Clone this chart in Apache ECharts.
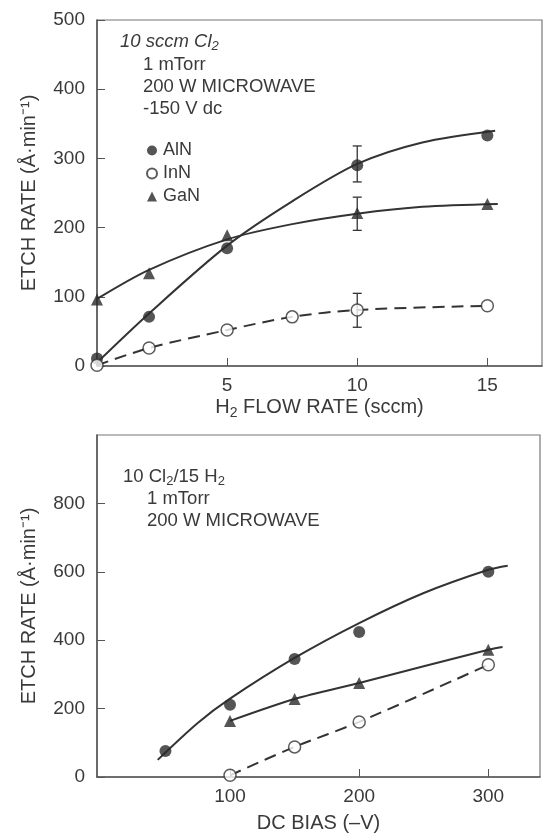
<!DOCTYPE html>
<html style="height: 100%">
<head>
<meta charset="utf-8">
<script src="https://cdn.jsdelivr.net/npm/echarts@6/dist/echarts.min.js"></script>
</head>
<body style="height: 100%; margin: 0; background: #fff">
<div id="container" style="width: 545px; height: 834px"></div>
<script type="text/javascript">

// top panel: etch rate vs H2 flow (sccm)
var alnFlow = [[0, 11], [2, 71], [5, 170], [10, 290], [15, 333]];
var innFlow = [[0, 1], [2, 26], [5, 52], [7.5, 71], [10, 81], [15, 87]];
var ganFlow = [[0, 96], [2, 134], [5, 189], [10, 221], [15, 234]];
var errFlow = [[10, 266, 318], [10, 196, 244], [10, 56, 105]];
var alnFlowFit = [[0, 5], [2, 76], [5, 174], [7.5, 238], [10, 292], [12.5, 323], [15.3, 340]];
var ganFlowFit = [[0, 97], [2, 139], [5, 183], [7.5, 205], [10, 220], [12.5, 230], [15.4, 234]];

// bottom panel: etch rate vs dc bias (-V)
var alnBias = [[50, 76], [100, 211], [150, 345], [200, 424], [300, 600]];
var innBias = [[100, 5], [150, 88], [200, 161], [300, 328]];
var ganBias = [[100, 164], [150, 228], [200, 275], [300, 372]];
var alnBiasFit = [[44, 50], [75, 158], [100, 229], [150, 348], [200, 450], [250, 538], [300, 606], [315, 618]];
var ganBiasFit = [[100, 164], [150, 228], [200, 275], [300, 372], [311, 380]];

var flowTicks = [5, 10, 15];
var biasTicks = [100, 200, 300];

var ink = '#3a3a3a';
var font = 'Liberation Sans';

// rich text styles for subscripts
var richBig = {
  n: { fontSize: 20, lineHeight: 26, verticalAlign: 'middle', color: ink, fontFamily: font },
  s: { fontSize: 14, lineHeight: 14, verticalAlign: 'bottom', color: ink, fontFamily: font }
};
var richNote = {
  n: { fontSize: 18.5, lineHeight: 22, verticalAlign: 'middle', fill: ink, fontFamily: font },
  i: { fontSize: 18.5, lineHeight: 22, verticalAlign: 'middle', fill: ink, fontFamily: font, fontStyle: 'italic' },
  s: { fontSize: 13, lineHeight: 12, verticalAlign: 'bottom', fill: ink, fontFamily: font },
  si: { fontSize: 13, lineHeight: 12, verticalAlign: 'bottom', fill: ink, fontFamily: font, fontStyle: 'italic' }
};

function xAx(idx, min, max, ticks, name, gap) {
  return {
    type: 'value', gridIndex: idx, min: min, max: max,
    name: name, nameLocation: 'middle', nameGap: gap,
    nameTextStyle: { color: ink, fontSize: 20, fontFamily: font, rich: richBig },
    axisLine: { onZero: false, lineStyle: { color: '#555', width: 1.5 } },
    axisTick: { inside: true, length: 8, customValues: ticks, lineStyle: { color: '#555' } },
    axisLabel: { customValues: ticks, color: ink, fontSize: 19, fontFamily: font, margin: 10 },
    splitLine: { show: false }
  };
}
function yAx(idx, max, interval) {
  return {
    type: 'value', gridIndex: idx, min: 0, max: max, interval: interval,
    name: 'ETCH RATE (Å·min⁻¹)', nameLocation: 'middle', nameGap: 58,
    nameTextStyle: { color: ink, fontSize: 20, fontFamily: font },
    axisLine: { show: true, onZero: false, lineStyle: { color: '#555', width: 1.5 } },
    axisTick: { show: true, inside: true, length: 8, lineStyle: { color: '#555' } },
    axisLabel: { color: ink, fontSize: 19, fontFamily: font, margin: 12, showMaxLabel: idx === 0 },
    splitLine: { show: false }
  };
}

function fitLine(idx, data, dashed) {
  return {
    type: 'line', xAxisIndex: idx, yAxisIndex: idx, data: data,
    showSymbol: false, smooth: 0.3, z: 2, silent: true,
    lineStyle: { color: '#333', width: 2, type: dashed ? [12, 7] : 'solid' }
  };
}
function dots(idx, name, data, open, sym) {
  return {
    type: 'scatter', name: name, xAxisIndex: idx, yAxisIndex: idx, data: data,
    symbol: sym || 'circle', symbolSize: 12, z: 5,
    itemStyle: open ? { color: '#fff', borderColor: '#333', borderWidth: 1.5 } : { color: '#2a2a2a' }
  };
}
function note(x, y, text) {
  return { type: 'text', left: x, top: y, style: { text: text, rich: richNote } };
}

var dom = document.getElementById('container');
var myChart = echarts.init(dom);

var option = {
  backgroundColor: '#fff',
  animation: false,
  grid: [
    { left: 97, top: 20, width: 445, height: 346, show: true, borderColor: '#777', borderWidth: 1.2 },
    { left: 97, top: 435, width: 443, height: 343, show: true, borderColor: '#777', borderWidth: 1.2 }
  ],
  xAxis: [
    xAx(0, 0, 17.1, flowTicks, '{n|H}{s|2}{n| FLOW RATE (sccm)}', 28),
    xAx(1, -3, 340, biasTicks, '{n|DC BIAS (–V)}', 33)
  ],
  yAxis: [yAx(0, 500, 100), yAx(1, 1000, 200)],
  legend: {
    data: ['AlN', 'InN', 'GaN'], orient: 'vertical', left: 141, top: 136,
    itemWidth: 10, itemHeight: 10, itemGap: 4, selectedMode: false,
    textStyle: { color: ink, fontSize: 18, fontFamily: font, lineHeight: 19, padding: [0, 0, 0, 1] }
  },
  graphic: [
    note(120, 32, '{i|10 sccm Cl}{si|2}'),
    note(143, 55, '{n|1 mTorr}'),
    note(143, 77, '{n|200 W MICROWAVE}'),
    note(143, 99, '{n|-150 V dc}'),
    note(123, 467, '{n|10 Cl}{s|2}{n|/15 H}{s|2}'),
    note(147, 489, '{n|1 mTorr}'),
    note(147, 511, '{n|200 W MICROWAVE}')
  ],
  series: [
    fitLine(0, alnFlowFit, false),
    fitLine(0, ganFlowFit, false),
    fitLine(0, innFlow, true),
    {
      type: 'custom', xAxisIndex: 0, yAxisIndex: 0, data: errFlow, z: 3, silent: true,
      renderItem: function (params, api) {
        var lo = api.coord([api.value(0), api.value(1)]);
        var hi = api.coord([api.value(0), api.value(2)]);
        var w = 4.5;
        var st = { stroke: '#333', lineWidth: 1.3 };
        return {
          type: 'group', children: [
            { type: 'line', shape: { x1: lo[0], y1: lo[1], x2: hi[0], y2: hi[1] }, style: st },
            { type: 'line', shape: { x1: lo[0] - w, y1: lo[1], x2: lo[0] + w, y2: lo[1] }, style: st },
            { type: 'line', shape: { x1: hi[0] - w, y1: hi[1], x2: hi[0] + w, y2: hi[1] }, style: st }
          ]
        };
      }
    },
    dots(0, 'AlN', alnFlow, false),
    dots(0, 'InN', innFlow, true),
    dots(0, 'GaN', ganFlow, false, 'triangle'),

    fitLine(1, alnBiasFit, false),
    fitLine(1, ganBiasFit, false),
    fitLine(1, innBias, true),
    dots(1, 'AlN', alnBias, false),
    dots(1, 'InN', innBias, true),
    dots(1, 'GaN', ganBias, false, 'triangle')
  ]
};

myChart.setOption(option);

</script>
</body>
</html>
